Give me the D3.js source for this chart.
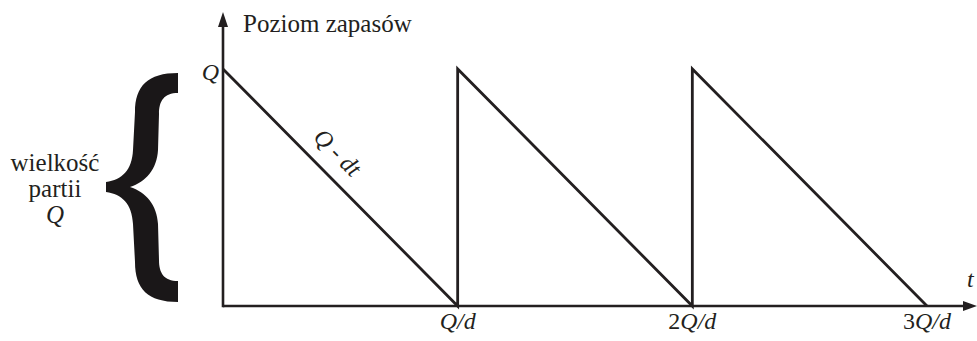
<!DOCTYPE html>
<html><head><meta charset="utf-8">
<script src="https://cdn.jsdelivr.net/npm/d3@7"></script>
<style>body{margin:0;background:#fff}svg{display:block}</style>
</head><body><svg id="c" width="977" height="341" font-family="'Liberation Serif', 'DejaVu Serif', serif"></svg>
<script>
const times = [0, 1, 1, 2, 2, 3];
const levels = [1, 0, 1, 0, 1, 0];
const tickValues = [1, 2, 3];
const tickLabels = [["", "Q/d"], ["2", "Q/d"], ["3", "Q/d"]];
const yAxisTitle = "Poziom zapasów";
const xAxisTitle = "t";
const levelLabel = "Q";
const slopeLabel = "Q - dt";
const braceLabel = ["wielkość", "partii", "Q"];

(function () {
const svg = d3.select("#c");
const x = d3.scaleLinear().domain([0, 3]).range([223, 927]);
const y = d3.scaleLinear().domain([0, 1]).range([306, 69]);
const col = "#231f20";
const fs = 24;

// axes
const xEnd = 977, yTop = 12;
svg.append("line").attr("x1", x(0)).attr("x2", xEnd - 10).attr("y1", y(0)).attr("y2", y(0))
  .attr("stroke", col).attr("stroke-width", 2.6);
svg.append("line").attr("x1", x(0)).attr("x2", x(0)).attr("y1", y(0) + 1.3).attr("y2", yTop + 10)
  .attr("stroke", col).attr("stroke-width", 2.6);
svg.append("path").attr("d", `M${xEnd},${y(0)} L${xEnd - 14},${y(0) - 5} L${xEnd - 14},${y(0) + 5} Z`).attr("fill", col);
svg.append("path").attr("d", `M${x(0)},${yTop} L${x(0) - 5},${yTop + 15} L${x(0) + 5},${yTop + 15} Z`).attr("fill", col);

// sawtooth
const pts = times.map((t, i) => [t, levels[i]]);
svg.append("path").datum(pts)
  .attr("d", d3.line().x(d => x(d[0])).y(d => y(d[1])))
  .attr("fill", "none").attr("stroke", col).attr("stroke-width", 2.8).attr("stroke-linejoin", "miter");

// tick labels
tickValues.forEach((v, i) => {
  const t = svg.append("text").attr("x", x(v)).attr("y", 329).attr("text-anchor", "middle").attr("font-size", fs).attr("fill", col);
  if (tickLabels[i][0]) t.append("tspan").text(tickLabels[i][0]);
  t.append("tspan").attr("font-style", "italic").text(tickLabels[i][1]);
});

// titles
svg.append("text").attr("x", 243).attr("y", 32).attr("font-size", fs + 1).attr("fill", col).text(yAxisTitle);
svg.append("text").attr("x", 967).attr("y", 287).attr("font-size", fs).attr("font-style", "italic").attr("fill", col).text(xAxisTitle);
svg.append("text").attr("x", 219).attr("y", 80).attr("text-anchor", "end").attr("font-size", fs).attr("font-style", "italic").attr("fill", col).text(levelLabel);

// slope label
const lt = 0.42;
const lx = x(lt), ly = y(1 - lt);
svg.append("text").attr("transform", `translate(${lx + 7},${ly - 7}) rotate(45)`)
  .attr("text-anchor", "middle").attr("dy", "-0.2em").attr("font-size", fs).attr("font-style", "italic").attr("fill", col).text(slopeLabel);

// brace
const b = `M178,73
 C148,73 135,86 135,112
 L133,150
 C132,170 122,180 106,182
 L106,192
 C122,194 132,204 133,224
 L135,262
 C135,289 148,302 178,302
 L178,281
 C164,281 159,273 159,260
 L158,224
 C157,205 146,192 130,187
 C146,182 157,169 158,150
 L159,114
 C159,101 164,93 178,93 Z`;
svg.append("path").attr("d", b).attr("fill", "#1a1718");

// brace label
const bl = svg.append("text").attr("text-anchor", "middle").attr("font-size", fs + 1).attr("fill", col);
braceLabel.forEach((s, i) => {
  bl.append("tspan").attr("x", 55).attr("y", 171 + i * 26).attr("font-style", i === 2 ? "italic" : null).text(s);
});
})();
</script></body></html>
